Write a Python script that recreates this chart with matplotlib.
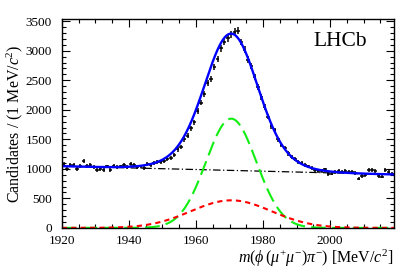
import numpy as np
import matplotlib
matplotlib.use("Agg")
import matplotlib.pyplot as plt
from matplotlib.ticker import MultipleLocator

plt.rcParams['font.family'] = ['Liberation Serif', 'DejaVu Serif']
plt.rcParams['mathtext.fontset'] = 'custom'
plt.rcParams['mathtext.rm'] = 'Liberation Serif'
plt.rcParams['mathtext.it'] = 'Liberation Serif:italic'
plt.rcParams['mathtext.bf'] = 'Liberation Serif:bold'

# ---- data (1 MeV bins starting at 1920) ----
bin_lo = 1920
counts = [1075, 1000, 1060, 1065, 1000, 1050, 1135, 1050, 1070, 1030,
          985, 1000, 975, 1040, 985, 1045, 1030, 1040, 1060, 1035,
          1085, 1070, 1030, 1040, 1020, 1080, 1065, 1100, 1110, 1115,
          1140, 1175, 1190, 1240, 1330, 1370, 1500, 1560, 1690, 1790,
          1980, 2120, 2270, 2450, 2520, 2720, 2860, 3040, 3150, 3210,
          3280, 3320, 3340, 3150, 3020, 2850, 2740, 2560, 2380, 2220,
          2050, 1880, 1720, 1650, 1500, 1400, 1350, 1260, 1200, 1170,
          1110, 1100, 1070, 1040, 1020, 980, 965, 960, 990, 915,
          920, 950, 960, 955, 965, 950, 945, 925, 835, 880,
          900, 985, 975, 960, 880, 870, 985, 945, 915]

# ---- fit components (read-off parameters) ----
bkg_left, bkg_right = 1045.0, 905.0
sig_mean = 1970.5
sig1_amp, sig1_width = 1850.0, 7.5
sig2_amp, sig2_width = 467.0, 12.0

x_range = (1920, 2019)
y_range = (0, 3540)

centers = bin_lo + 0.5 + np.arange(len(counts))
counts = np.array(counts, dtype=float)
xx = np.linspace(x_range[0], x_range[1], 600)
bkg = bkg_left + (bkg_right - bkg_left) * (xx - x_range[0]) / (x_range[1] - x_range[0])
g1 = sig1_amp * np.exp(-0.5 * ((xx - sig_mean) / sig1_width) ** 2)
g2 = sig2_amp * np.exp(-0.5 * ((xx - sig_mean) / sig2_width) ** 2)
total = bkg + g1 + g2

fig = plt.figure(figsize=(4.15, 2.7), dpi=100)
ax = fig.add_axes([0.149, 0.156, 0.800, 0.774])

ax.plot(xx, bkg, color='black', lw=0.9, ls=(0, (6, 2, 1, 2)))
ax.plot(xx, g1, color='#11ee11', lw=1.5, ls=(0, (7, 3)))
ax.plot(xx, g2, color='#ff0000', lw=1.5, ls=(0, (2.5, 2)))
ax.errorbar(centers, counts, xerr=0.5, yerr=np.sqrt(counts), fmt='none',
            ecolor='black', elinewidth=1.1, capsize=0)
ax.plot(xx, total, color='#0000ff', lw=1.7)

ax.set_xlim(*x_range)
ax.set_ylim(*y_range)
ax.xaxis.set_major_locator(MultipleLocator(20))
ax.xaxis.set_minor_locator(MultipleLocator(5))
ax.yaxis.set_major_locator(MultipleLocator(500))
ax.yaxis.set_minor_locator(MultipleLocator(100))
ax.tick_params(which='both', direction='in', top=True, right=True, labelsize=9.5)
ax.tick_params(which='major', length=6, width=0.8)
ax.tick_params(which='minor', length=3, width=0.8)
ax.tick_params(axis='x', which='major', pad=5)
ax.tick_params(axis='y', which='major', pad=7)
for s in ax.spines.values():
    s.set_linewidth(1.0)

ax.set_ylabel(r'Candidates / (1 MeV/$c^2$)', fontsize=11.5, labelpad=0)
ax.set_xlabel(r'$m(\phi\,(\mu^{+}\mu^{-})\pi^{-})$ [MeV/$c^2$]', fontsize=11.5,
              loc='right', labelpad=0.5)
ax.text(0.919, 0.935, 'LHCb', transform=ax.transAxes, ha='right', va='top',
        fontsize=15.5)

fig.savefig('out.png', dpi=100)
